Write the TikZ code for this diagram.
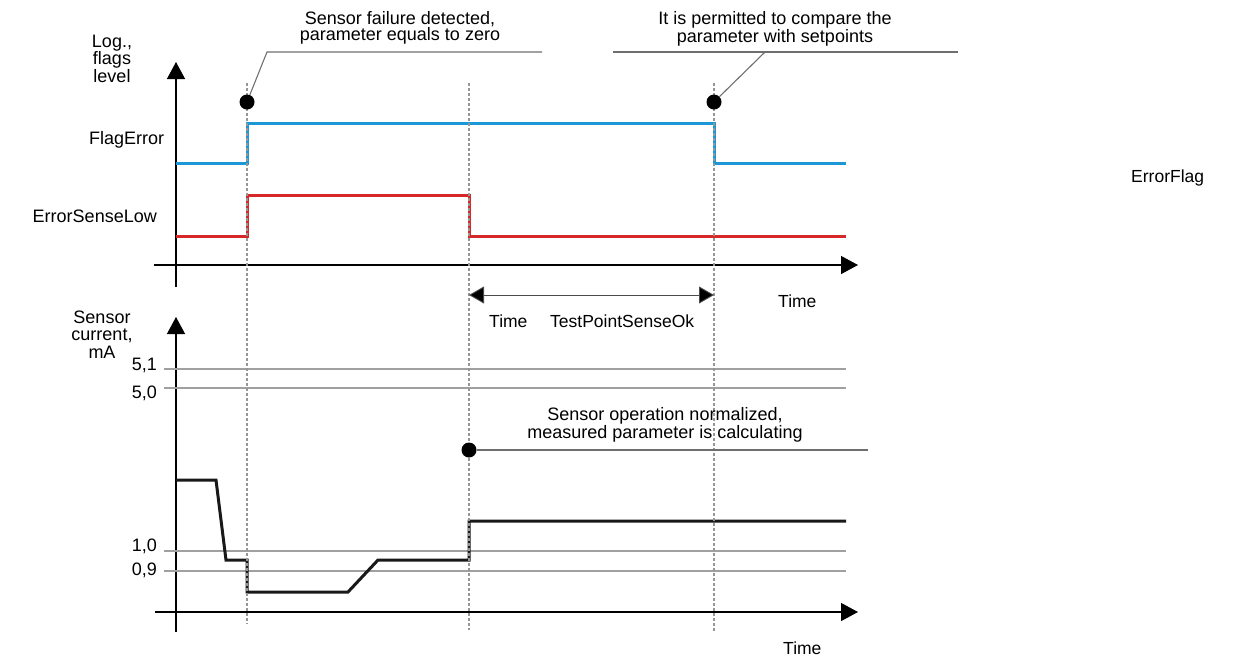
\documentclass[tikz,border=0pt]{standalone}
\usepackage{fontspec}
\setmainfont{Liberation Sans}
\usetikzlibrary{arrows.meta}
\definecolor{flagblue}{RGB}{28,152,215}
\definecolor{flagred}{RGB}{214,40,40}
\definecolor{gridgray}{RGB}{160,160,160}
\definecolor{dashgray}{RGB}{150,150,150}
\definecolor{callgray}{RGB}{110,110,110}
\begin{document}
\begin{tikzpicture}[x=1pt,y=-1pt,
  axis/.style={line width=1.3pt, -{Triangle[length=17pt,width=18pt]}},
  dimline/.style={line width=0.9pt, draw=black!70, {Triangle[length=15pt,width=17pt,fill=black]}-{Triangle[length=15pt,width=17pt,fill=black]}},
  gridline/.style={draw=gridgray, line width=2pt},
  vdash/.style={draw=dashgray, line width=1.4pt, dash pattern=on 3pt off 2pt},
  trace/.style={line width=3pt, line join=miter},
  callout/.style={draw=callgray, line width=1.1pt},
  dot/.style={circle, fill=black, inner sep=0pt, minimum size=15pt},
  lbl/.style={align=center, inner sep=0pt, font=\fontsize{18}{16}\selectfont},
  side/.style={inner sep=0pt, font=\fontsize{18}{17.5}\selectfont, align=center},
  big/.style={inner sep=0pt, font=\fontsize{18}{18}\selectfont},
  small/.style={inner sep=0pt, font=\fontsize{17.5}{17.5}\selectfont},
  num/.style={inner sep=0pt, font=\fontsize{18}{18}\selectfont}
]
\useasboundingbox (0,0) rectangle (1241,657);

% ---------- axes ----------
\coordinate (ua0) at (176,287); \coordinate (ua1) at (176,62);
\coordinate (ux0) at (154,265); \coordinate (ux1) at (858,265);
\coordinate (la0) at (176,632); \coordinate (la1) at (176,317);
\coordinate (lx0) at (155,612); \coordinate (lx1) at (858,612);
\draw[axis] (ua0) -- (ua1);
\draw[axis] (ux0) -- (ux1);
\draw[axis] (la0) -- (la1);
\draw[axis] (lx0) -- (lx1);

% ---------- grid lines (lower panel) ----------
\draw[gridline] (164,369) -- (846,369);
\draw[gridline] (164,388) -- (846,388);
\draw[gridline] (164,551) -- (846,551);
\draw[gridline] (164,571) -- (846,571);

% ---------- traces ----------
\draw[trace, flagblue] (176,163) -- (247,163) -- (247,123) -- (714,123) -- (714,163) -- (846,163);
\draw[trace, flagred] (176,236) -- (247,236) -- (247,195) -- (469,195) -- (469,236) -- (846,236);
\draw[trace, black!90] (176,480) -- (216,480) -- (226,560) -- (247,560) -- (247,592) -- (348,592) -- (378,560) -- (469,560) -- (469,521) -- (846,521);

% ---------- dashed time markers ----------
\coordinate (v1t) at (247,83); \coordinate (v1b) at (247,624);
\coordinate (v2t) at (469,83); \coordinate (v2b) at (469,630);
\coordinate (v3t) at (714,83); \coordinate (v3b) at (714,632);
\draw[vdash] (v1t) -- (v1b);
\draw[vdash] (v2t) -- (v2b);
\draw[vdash] (v3t) -- (v3b);

% ---------- duration arrow ----------
\coordinate (dA) at (469,295); \coordinate (dB) at (714,295);
\draw[dimline] (dA) -- (dB);

% ---------- callouts ----------
\node[dot] (d1) at (247,102) {};
\node[dot] (d2) at (714,102) {};
\node[dot] (d3) at (469,450) {};
\coordinate (c1a) at (267,52); \coordinate (c1b) at (542,52);
\coordinate (c2a) at (765,52); \coordinate (c2s) at (613,52); \coordinate (c2b) at (958,52);
\coordinate (c3b) at (868,450);
\draw[callout] (d1) -- (c1a) -- (c1b);
\draw[callout] (d2) -- (c2a);
\draw[callout] (c2s) -- (c2b);
\draw[callout] (d3) -- (c3b);

\node[lbl] (t1) at (400,28) {Sensor failure detected,\\parameter equals to zero};
\node[lbl] (t2) at (775,29) {It is permitted to compare the\\parameter with setpoints};
\node[lbl] (t3) at (665,425) {Sensor operation normalized,\\measured parameter is calculating};

% ---------- axis labels ----------
\node[side] (yl1) at (112,58.5) {Log.,\\flags\\level};
\node[side] (yl2) at (102,334.5) {Sensor\\current,\\mA};
\node[big, anchor=base west] (fe) at (89,144) {FlagError};
\node[big, anchor=base east] (esl) at (157,222) {ErrorSenseLow};
\node[small, anchor=base west] (ef) at (1131,182) {ErrorFlag};

\node[small, anchor=base west] (tm1) at (778,307) {Time};
\node[small, anchor=base west] (tm2) at (489,327) {Time};
\node[small, anchor=base west] (tpso) at (550,327) {TestPointSenseOk};
\node[small, anchor=base west] (tm3) at (783,654) {Time};

\node[num, anchor=base east] (n51) at (157,370) {5,1};
\node[num, anchor=base east] (n50) at (157,398) {5,0};
\node[num, anchor=base east] (n10) at (157,551) {1,0};
\node[num, anchor=base east] (n09) at (157,575) {0,9};
\end{tikzpicture}
\end{document}
